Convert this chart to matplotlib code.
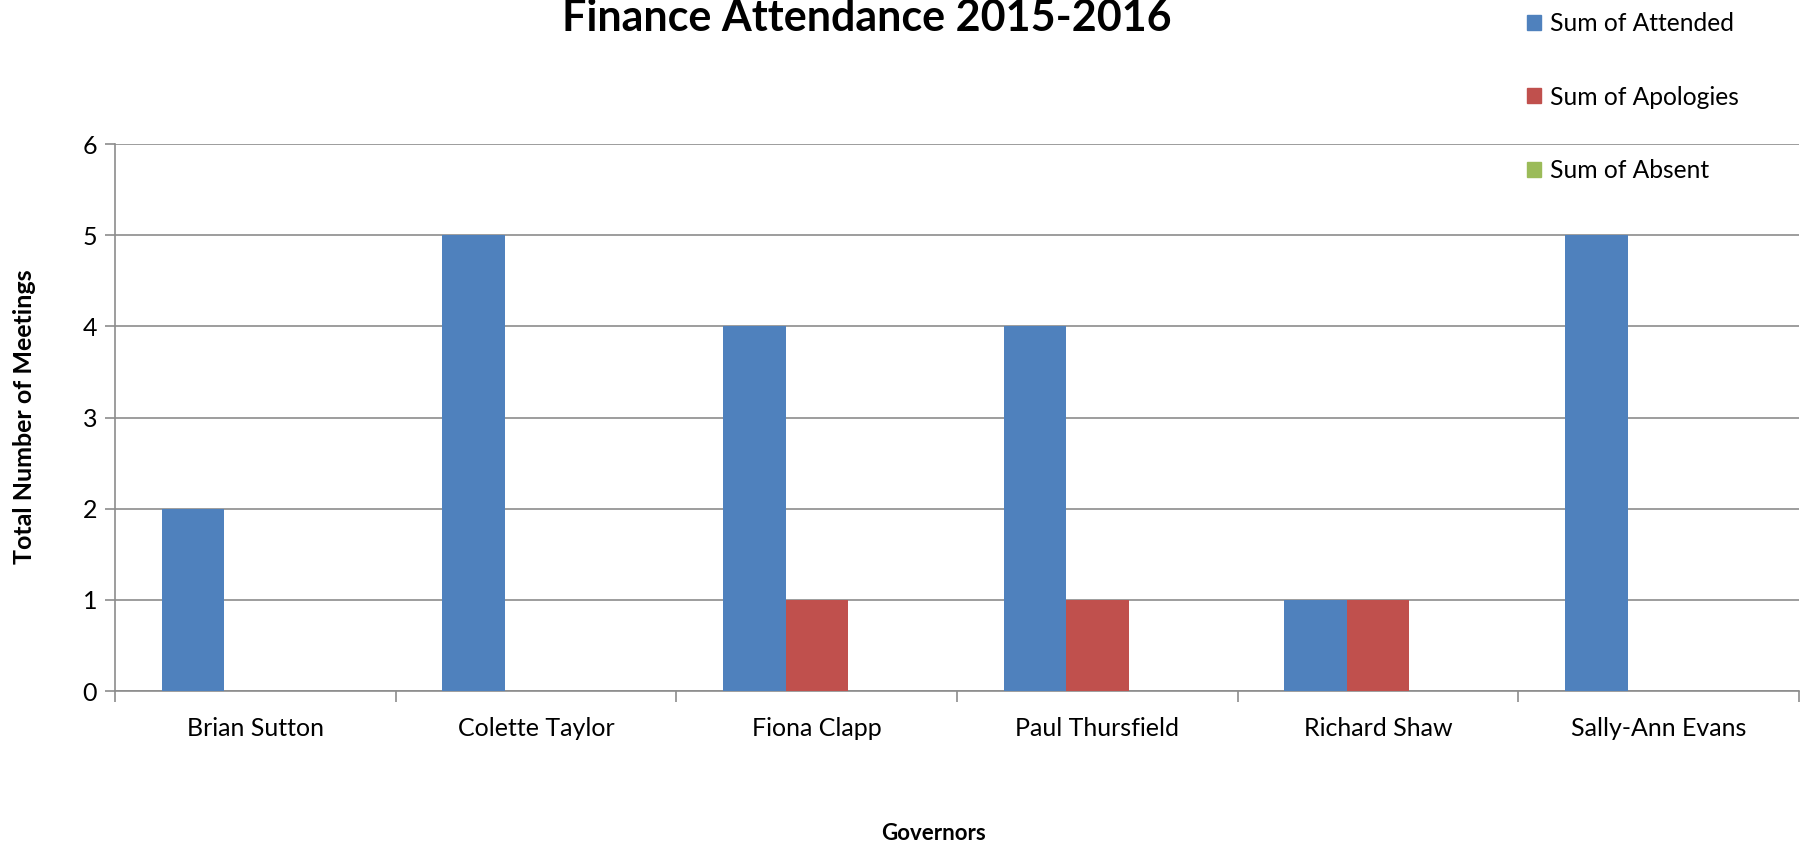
import numpy as np
import matplotlib.pyplot as plt
from matplotlib.patches import Patch

# chart data
governors = ['Brian Sutton', 'Colette Taylor', 'Fiona Clapp', 'Paul Thursfield', 'Richard Shaw', 'Sally-Ann Evans']
attended = [2, 5, 4, 4, 1, 5]
apologies = [0, 0, 1, 1, 1, 0]
absent = [0, 0, 0, 0, 0, 0]

series_names = ['Sum of Attended', 'Sum of Apologies', 'Sum of Absent']
colors = ['#4F81BD', '#C0504D', '#9BBB59']

plt.rcParams['font.family'] = ['Lato', 'DejaVu Sans']

fig = plt.figure(figsize=(18.03, 8.48), dpi=100)
ax = fig.add_axes([0.0638, 0.1851, 0.934, 0.645])

x = np.arange(len(governors))
w = 1 / 4.5  # excel gap width 150%
for i, vals in enumerate([attended, apologies, absent]):
    ax.bar(x + (i - 1) * w, vals, width=w, color=colors[i], zorder=3)

ax.set_xlim(-0.5, len(governors) - 0.5)
ax.set_ylim(0, 6)
ax.set_yticks(range(0, 7))
ax.yaxis.grid(True, color='#8C8C8C', linewidth=1.2, zorder=0)

ax.set_xticks(x)
ax.set_xticklabels(governors, fontsize=18)
ax.set_xticks(np.arange(-0.5, len(governors)), minor=True)
ax.tick_params(axis='x', which='major', length=0, pad=19)
ax.tick_params(axis='x', which='minor', length=8, color='#8C8C8C', width=1.2)
ax.tick_params(axis='y', length=7, color='#8C8C8C', width=1.2, labelsize=18, pad=6)

for s in ['top', 'right']:
    ax.spines[s].set_visible(False)
for s in ['left', 'bottom']:
    ax.spines[s].set_color('#8C8C8C')
    ax.spines[s].set_linewidth(1.2)

fig.text(0.481, 1 - 18 / 848, 'Finance Attendance 2015-2016', fontsize=31, fontweight='bold',
         ha='center', va='center')
fig.text(0.5175, 1 - 834 / 848, 'Governors', fontsize=16, fontweight='bold', ha='center', va='center')
fig.text(25 / 1803, 1 - 417 / 848, 'Total Number of Meetings', fontsize=18, fontweight='bold',
         rotation=90, ha='center', va='center')

handles = [Patch(color=c) for c in colors]
fig.legend(handles, series_names, loc='center left', bbox_to_anchor=(1527 / 1803, 1 - 97 / 848),
           frameon=False, fontsize=17.7, handlelength=0.57, handleheight=0.57, handletextpad=0.35,
           labelspacing=2.05, borderpad=0, borderaxespad=0)

fig.savefig('out.png', dpi=100)
